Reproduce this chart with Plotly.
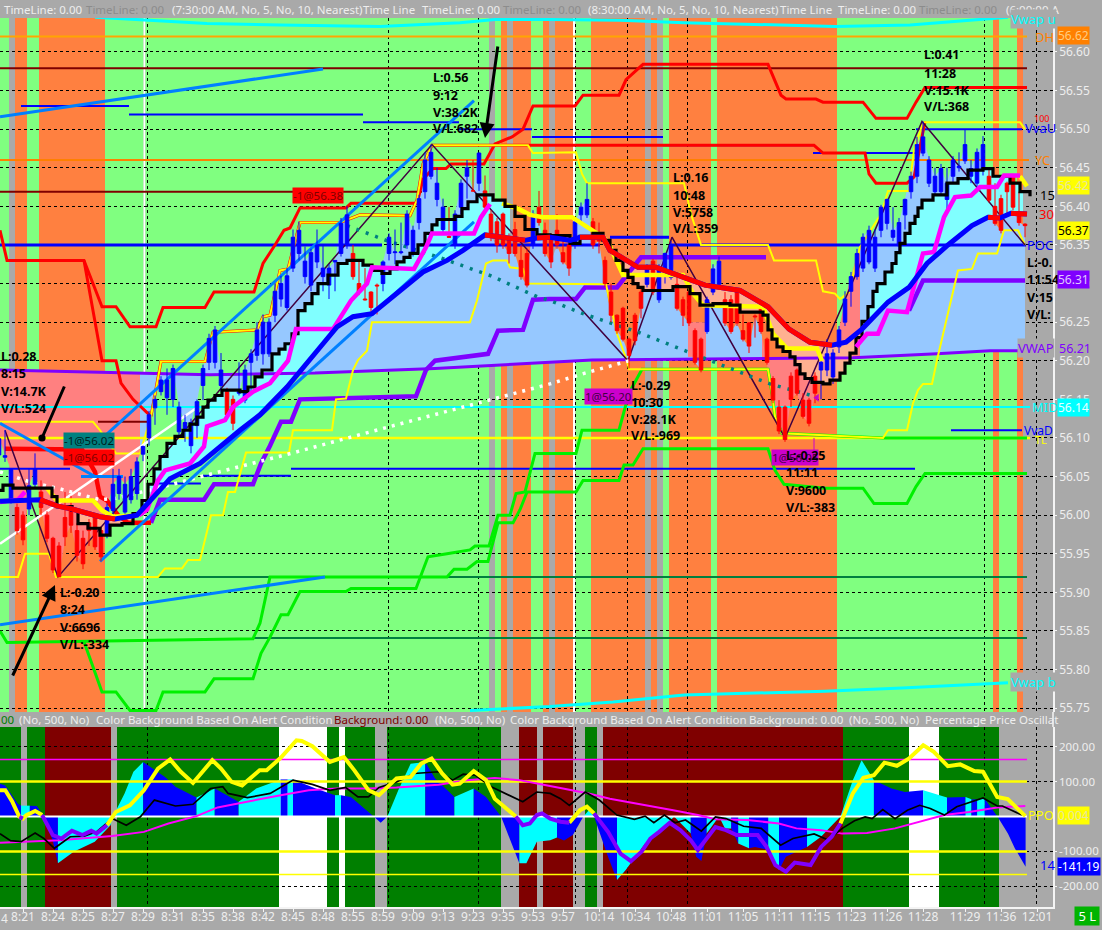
import numpy as np
import plotly.graph_objects as go

# ---------- candles (bar number, price) ----------
bar_no = list(range(-4, 168))
open_ = [56.078,56.075,56.018,56.010,56.0,56.008,56.04,56.03,56.0,55.97,55.96,55.997,56.009,55.98,55.97,55.99,55.998,55.98,55.974,56.006,
56.028,56.004,56.02,56.028,56.079,56.10,56.139,56.16,56.152,56.15,56.108,56.11,56.09,56.116,56.168,56.198,56.198,56.168,56.16,56.15,
56.158,56.149,56.198,56.207,56.209,56.209,56.259,56.28,56.269,56.32,56.339,56.309,56.298,56.328,56.309,56.298,56.328,56.339,56.35,56.339,
56.30,56.28,56.289,56.298,56.30,56.339,56.34,56.34,56.35,56.339,56.379,56.419,56.439,56.409,56.37,56.361,56.35,56.399,56.439,56.42,
56.43,56.42,56.39,56.38,56.39,56.36,56.37,56.33,56.339,56.35,56.399,56.369,56.36,56.369,56.34,56.35,56.35,56.389,56.389,56.38,
56.36,56.33,56.289,56.259,56.268,56.228,56.259,56.289,56.299,56.329,56.279,56.319,56.308,56.299,56.279,56.289,56.239,56.228,56.238,56.289,
56.299,56.279,56.279,56.289,56.239,56.249,56.258,56.27,56.228,56.177,56.14,56.14,56.18,56.188,56.149,56.149,56.18,56.188,56.188,56.179,
56.218,56.25,56.29,56.309,56.32,56.328,56.32,56.369,56.378,56.36,56.349,56.389,56.419,56.439,56.469,56.43,56.419,56.419,56.409,56.439,
56.45,56.459,56.439,56.43,56.448,56.439,56.40,56.41,56.43,56.439,56.389,56.377]
high_ = [56.104,56.11,56.06,56.015,56.005,56.06,56.08,56.045,56.005,55.972,55.965,56.03,56.025,55.99,55.98,55.995,56.0,55.985,56.015,56.06,
56.06,56.05,56.06,56.075,56.09,56.135,56.155,56.18,56.19,56.195,56.147,56.13,56.125,56.15,56.195,56.235,56.245,56.21,56.165,56.155,
56.198,56.195,56.215,56.25,56.26,56.255,56.30,56.31,56.32,56.37,56.38,56.348,56.345,56.37,56.35,56.325,56.33,56.385,56.40,56.35,
56.328,56.32,56.29,56.30,56.33,56.365,56.37,56.379,56.395,56.375,56.415,56.47,56.48,56.45,56.41,56.399,56.395,56.435,56.46,56.46,
56.47,56.44,56.395,56.385,56.392,56.365,56.38,56.35,56.345,56.395,56.42,56.379,56.365,56.39,56.36,56.352,56.385,56.405,56.43,56.385,
56.379,56.335,56.30,56.26,56.27,56.23,56.262,56.295,56.325,56.332,56.325,56.34,56.355,56.308,56.283,56.292,56.242,56.23,56.283,56.325,
56.335,56.289,56.285,56.292,56.26,56.25,56.26,56.278,56.23,56.18,56.149,56.142,56.185,56.19,56.158,56.152,56.185,56.2,56.228,56.215,
56.245,56.29,56.315,56.345,56.365,56.375,56.37,56.402,56.41,56.399,56.385,56.41,56.445,56.49,56.51,56.465,56.45,56.455,56.45,56.465,
56.47,56.50,56.46,56.475,56.491,56.449,56.43,56.415,56.432,56.442,56.419,56.378]
low_ = [56.07,56.069,56.015,55.975,55.961,56.0,56.035,56.0,55.965,55.925,55.92,55.96,55.977,55.94,55.93,55.96,55.955,55.94,55.97,56.0,
56.02,56.0,56.015,56.02,56.07,56.09,56.117,56.155,56.13,56.14,56.10,56.095,56.08,56.10,56.149,56.188,56.19,56.16,56.125,56.11,
56.155,56.145,56.16,56.2,56.195,56.205,56.25,56.27,56.265,56.315,56.33,56.3,56.29,56.32,56.29,56.28,56.29,56.335,56.345,56.305,
56.285,56.278,56.26,56.26,56.29,56.33,56.325,56.338,56.345,56.335,56.37,56.41,56.435,56.40,56.365,56.36,56.345,56.39,56.41,56.42,
56.42,56.395,56.355,56.34,56.345,56.326,56.335,56.305,56.295,56.345,56.375,56.335,56.32,56.345,56.325,56.31,56.345,56.378,56.385,56.345,
56.339,56.295,56.25,56.235,56.225,56.19,56.22,56.255,56.295,56.285,56.275,56.30,56.305,56.265,56.245,56.245,56.195,56.185,56.235,56.285,
56.295,56.245,56.235,56.245,56.225,56.21,56.23,56.235,56.195,56.145,56.105,56.095,56.14,56.155,56.125,56.115,56.145,56.15,56.18,56.17,
56.21,56.245,56.27,56.305,56.315,56.325,56.315,56.36,56.37,56.355,56.34,56.37,56.41,56.43,56.465,56.425,56.415,56.415,56.39,56.43,
56.445,56.455,56.43,56.425,56.44,56.405,56.375,56.365,56.39,56.395,56.375,56.36]
close_ = [56.099,56.077,56.059,55.98,55.968,56.038,56.06,56.01,55.97,55.929,55.92,55.972,55.987,55.948,55.937,55.98,55.959,55.946,56.01,56.04,
56.05,56.04,56.05,56.069,56.089,56.13,56.15,56.175,56.175,56.19,56.14,56.12,56.12,56.147,56.19,56.229,56.24,56.188,56.13,56.119,
56.16,56.188,56.209,56.24,56.25,56.25,56.29,56.30,56.31,56.36,56.369,56.329,56.34,56.35,56.32,56.32,56.33,56.378,56.389,56.309,
56.289,56.279,56.269,56.297,56.328,56.36,56.341,56.341,56.39,56.369,56.41,56.46,56.47,56.43,56.399,56.36,56.39,56.43,56.45,56.42,
56.469,56.399,56.36,56.35,56.35,56.339,56.339,56.309,56.298,56.39,56.379,56.339,56.328,56.35,56.328,56.32,56.38,56.399,56.409,56.35,
56.355,56.30,56.259,56.239,56.228,56.207,56.226,56.268,56.319,56.289,56.319,56.339,56.35,56.268,56.259,56.249,56.198,56.188,56.279,56.319,
56.329,56.249,56.238,56.249,56.228,56.219,56.257,56.238,56.198,56.149,56.109,56.098,56.15,56.158,56.128,56.119,56.158,56.198,56.209,56.21,
56.24,56.28,56.309,56.339,56.36,56.369,56.36,56.399,56.409,56.369,56.379,56.409,56.439,56.48,56.49,56.46,56.439,56.449,56.43,56.46,
56.452,56.48,56.449,56.47,56.48,56.408,56.378,56.369,56.419,56.399,56.379,56.375]

# ---------- top pane levels ----------
level_names = ["DH","YC","R1","R2","R3","G1","G2","TL","MID","P1","P2","P3","P4"]
level_price = [56.62,56.46,56.579,56.419,56.121,55.92,55.841,56.10,56.14,56.35,56.35,56.36,56.35]
level_start = [0,0,0,0,98,158,253,0,0,0,420,610,669]
level_end   = [1027,1029,1027,422,147,1027,1027,1030,1030,382,600,669,1026]
level_color = ["#ffa500","#ff8000","#7f0000","#7f0000","#7f0000","#007f3f","#007f3f","#ffff00","#00ffff","#0000ff","#0000ff","#0000ff","#0000ff"]
level_width = [2,2,2,2,2,2,2,2.5,2,3,3,3,3]
va_start = [21,129,363,459,532,663,813,916,291,203,158,915,951,0,81]
va_end   = [129,363,459,532,663,813,916,1022,915,291,201,951,1022,70,123]
va_price = [56.53,56.519,56.509,56.50,56.49,56.479,56.469,56.50,56.06,56.051,56.041,56.10,56.11,56.06,56.05]

# ---------- top pane curves (x = slot on the time scale, y = price) ----------
vwapu_x=[95,150,207,280,380,460,495,550,620,684,796,835,910,1008]
vwapu_y=[56.645,56.641,56.637,56.635,56.633,56.638,56.642,56.642,56.641,56.638,56.635,56.633,56.635,56.645]
vwapb_x=[470,550,613,684,825,902,1008]
vwapb_y=[55.747,55.752,55.758,55.767,55.772,55.776,55.783]
vwap_x=[0,80,210,315,435,550,592,768,853,937,990,1027]
vwap_y=[56.188,56.186,56.182,56.184,56.19,56.198,56.201,56.203,56.204,56.209,56.213,56.213]
purple_x=[151,160,204,214,253,261,270,281,291,300,416,426,435,488,498,523,533,550,576,585,617,631,641,766,None,909,923,1025]
purple_y=[55.99,56.02,56.02,56.04,56.04,56.067,56.09,56.121,56.121,56.15,56.154,56.188,56.2,56.209,56.239,56.24,56.279,56.28,56.28,56.295,56.295,56.317,56.334,56.334,None,56.265,56.304,56.304]
red1_x=[0,7,84,102,116,130,156,163,205,214,254,263,275,284,290,300,346,351,417,423,433,446,451,484,495,512,523,533,575,583,619,626,643,768,781,786,816,823,863,876,907,916,925,1027]
red1_y=[56.369,56.33,56.33,56.27,56.27,56.244,56.244,56.269,56.269,56.289,56.289,56.326,56.35,56.369,56.372,56.398,56.398,56.404,56.404,56.435,56.449,56.449,56.455,56.455,56.481,56.49,56.50,56.53,56.53,56.544,56.544,56.564,56.584,56.584,56.544,56.539,56.539,56.535,56.535,56.514,56.514,56.535,56.554,56.554]
red2_x=[84,102,116,121,133,151,161,205,213,257,263,270,280,288,300,340,360,410,417,423,432,814,823,865,869,876,907,914,920,925]
red2_y=[56.33,56.2,56.2,56.171,56.15,56.128,56.199,56.199,56.237,56.24,56.257,56.259,56.317,56.319,56.379,56.379,56.389,56.388,56.408,56.455,56.479,56.479,56.469,56.469,56.442,56.43,56.43,56.438,56.477,56.51]
red3_x=[5,82,95,100,107,118,128,151]
red3_y=[56.086,56.085,56.056,56.024,56.019,56.0,55.99,55.99]
yup_x=[0,93,100,116,140,151,161,205,213,257,263,270,280,288,300,340,360,410,417,423,432,528,533,576,582,587,684,691,701,768,774,816,823,835,840,849,860,881,888,909,914,923,1020,1025]
yup_y=[56.121,56.121,56.11,56.08,56.08,56.128,56.199,56.199,56.237,56.24,56.257,56.259,56.317,56.319,56.379,56.379,56.389,56.388,56.408,56.455,56.479,56.479,56.469,56.47,56.442,56.43,56.43,56.39,56.35,56.35,56.33,56.33,56.29,56.287,56.28,56.289,56.347,56.39,56.42,56.42,56.473,56.509,56.509,56.5]
ylo_x=[0,18,25,49,56,158,165,182,188,200,211,223,228,235,246,289,293,332,336,346,353,358,367,372,470,477,486,493,507,510,523,528,606,617,627,629,768,772,775,782,883,888,907,913,918,923,932,937,958,972,978,997,1004,1018,1025]
ylo_y=[55.92,55.92,55.95,55.95,55.92,55.92,55.931,55.931,55.942,55.942,56.0,56.0,56.03,56.03,56.081,56.081,56.11,56.11,56.15,56.151,56.188,56.201,56.213,56.25,56.25,56.278,56.326,56.33,56.33,56.321,56.319,56.3,56.299,56.235,56.2,56.189,56.189,56.158,56.128,56.106,56.1,56.11,56.11,56.145,56.162,56.17,56.17,56.201,56.317,56.319,56.339,56.339,56.369,56.369,56.35]
greena_x=[84,102,116,130,156,163,205,214,253,261,270,281,288,300,346,351,416,428,447,470,475,489,498,510,516,525,535,576,582,619,629,642,768,772,775,782,883,1027]
greena_y=[55.836,55.771,55.771,55.747,55.747,55.771,55.771,55.788,55.788,55.821,55.842,55.871,55.871,55.901,55.901,55.905,55.905,55.946,55.95,55.955,55.96,55.96,56.0,56.0,56.028,56.03,56.08,56.08,56.11,56.11,56.158,56.189,56.189,56.158,56.128,56.106,56.1,56.1]
greenb_x=[0,7,253,260,270,447,454,467,477,488,498,513,520,527,576,583,619,624,633,643,768,775,784,825,863,874,907,916,925,1027]
greenb_y=[55.85,55.835,55.84,55.86,55.92,55.92,55.93,55.93,55.94,55.94,55.99,55.99,56.007,56.03,56.03,56.045,56.045,56.065,56.065,56.086,56.086,56.058,56.04,56.035,56.035,56.015,56.015,56.037,56.054,56.054]
ema15_x=[0,3,13,45,52,57,72,78,88,100,
110,122,133,142,148,154,160,167,175,183,
190,197,203,208,215,222,240,248,255,262,
272,279,285,292,298,305,312,318,328,338,
347,355,363,372,382,390,397,404,410,418,
425,432,437,455,462,468,477,485,493,505,
515,525,537,550,570,580,593,603,610,616,
623,628,633,638,643,660,673,690,700,713,
730,740,763,768,772,777,783,790,795,800,
805,812,823,830,840,845,850,856,862,868,
873,877,885,892,896,900,905,910,915,918,
922,933,947,958,968,983,993,1010,1020,1030]
ema15_y=[56.032,56.039,56.035,56.035,56.024,56.011,56.006,55.989,55.983,55.974,
55.987,55.989,56.002,56.019,56.04,56.06,56.076,56.093,56.102,56.11,
56.118,56.127,56.14,56.149,56.155,56.162,56.16,56.166,56.179,56.188,
56.209,56.215,56.222,56.235,56.265,56.274,56.287,56.30,56.311,56.326,
56.33,56.33,56.324,56.317,56.313,56.319,56.328,56.334,56.339,56.35,
56.365,56.376,56.383,56.387,56.397,56.406,56.415,56.415,56.408,56.4,
56.387,56.37,56.363,56.362,56.352,56.361,56.365,56.356,56.343,56.33,
56.317,56.308,56.3,56.295,56.291,56.291,56.296,56.287,56.272,56.274,
56.272,56.263,56.259,56.24,56.228,56.218,56.212,56.205,56.195,56.183,
56.177,56.172,56.17,56.175,56.184,56.197,56.21,56.23,56.251,56.27,
56.29,56.30,56.315,56.326,56.34,56.352,56.365,56.378,56.387,56.398,
56.408,56.415,56.43,56.436,56.447,56.449,56.439,56.43,56.419,56.413]
ema30_x=[0,40,57,72,100,115,137,143,163,170,187,200,240,260,287,303,323,337,353,372,390,400,423,447,463,485,525,537,550,570,580,603,610,638,656,705,740,768,789,810,832,846,862,888,909,927,948,972,988,1000,1011,1027]
ema30_y=[56.018,56.02,56.012,56.008,55.998,55.995,56.0,56.009,56.037,56.047,56.058,56.067,56.11,56.13,56.166,56.192,56.222,56.244,56.257,56.261,56.28,56.291,56.315,56.33,56.343,56.363,56.356,56.359,56.36,56.356,56.36,56.36,56.343,56.321,56.321,56.298,56.291,56.27,56.241,56.224,56.22,56.224,56.241,56.276,56.295,56.326,56.35,56.375,56.386,56.385,56.391,56.39]
ema30_red_from=[40,485,537,580,988,1011]
ema30_red_to=[115,525,550,832,1000,1027]
mag_x=[0,18,25,None,139,147,158,165,190,204,207,225,233,253,270,281,288,296,333,351,367,372,414,426,432,474,481,490,None,856,867,878,888,907,916,923,934,944,955,971,980,997,1004,1020]
mag_y=[56.017,56.02,56.03,None,56.0,56.007,56.045,56.058,56.067,56.089,56.115,56.123,56.14,56.16,56.171,56.188,56.2,56.241,56.241,56.278,56.3,56.321,56.319,56.347,56.365,56.365,56.386,56.403,None,56.218,56.235,56.235,56.265,56.263,56.304,56.339,56.341,56.386,56.412,56.414,56.425,56.425,56.44,56.44]
ythick_x=[47,57,93,102,113,137,None,502,518,530,543,572,603,608,623,663,683,693,703,763,773,787,817,822,None,1020,1027]
ythick_y=[56.035,56.019,56.019,56.006,55.998,56.0,None,56.404,56.397,56.389,56.386,56.386,56.36,56.354,56.311,56.311,56.311,56.287,56.272,56.27,56.235,56.216,56.216,56.2,None,56.439,56.426]
white_x=[0,198]
white_y=[55.963,56.14]
wdot_x=[0,30,60,100,116,158,207,291,382,491,550,585,629]
wdot_y=[56.056,56.043,56.034,56.02,56.022,56.035,56.052,56.08,56.112,56.15,56.17,56.184,56.2]
tdot_x=[347,386,439,491,537,550,585,638,693,770,817]
tdot_y=[56.375,56.356,56.334,56.31,56.283,56.278,56.26,56.237,56.209,56.17,56.153]
zig_x=[5,58,432,628,672,785,922,1025]
zig_y=[56.11,55.92,56.48,56.20,56.36,56.10,56.51,56.35]
trend_x0=[0,0,100,100,0,81]
trend_y0=[56.516,55.858,55.94,56.097,56.119,56.05]
trend_x1=[323,325,474,474,95,123]
trend_y1=[56.578,55.92,56.38,56.537,56.05,56.05]

# ---------- backgrounds ----------
top_edges=[0,9,15,27,39,105,143.5,145.5,489,495,501,507,513,531,543,549,555,573,575.5,591,645,651,657,663,669,711,717,837,993,999,1017,1023,1053]
top_state=["g","a","o","g","o","g","w","g","a","g","o","a","o","g","o","a","o","w","g","o","a","o","a","g","o","g","o","g","o","g","o","a"]
low_edges=[0,21,27,45,111,117,279,327,339,345,375,387,501,519,537,543,573,585,597,603,843,909,939,999,1053]
low_state=["G","a","G","R","a","G","w","G","w","G","a","G","a","R","a","R","a","G","a","R","G","w","G","a"]

# ---------- lower pane (bar number, oscillator value) ----------
hist_i=[-3.83,-2.95,-0.9,-0.32,1.14,2.31,3.48,4.94,5.82,8.45,11.96,14.59,15,16.93,18.4,20.03,23.66,25.41,28.92,31.96,35.94,38.86,42.95,44.12,45,48.8,52,53,54.65,58.45,59.62,60.73,62.55,64.6,67.05,68.68,71.9,75.12,77.16,79.68,82.72,83.9,85.64,87.87,89,90.18,91.64,93.4,94.3,95.17,97.5,99,100.45,103.67,106,107.78,108.5,111.3,112.2,113.06,113.95,116,117,118.05,119.2,121,122,124.2,126,127.15,130.67,133,136.24,138.3,139.77,141.82,144.76,147,150.04,154,157.08,158.08,159.02,160.3,162.4,164.15,165.3,167.1]
hist_v=[94,89,37,31,31,30,0,-68,-134,-101,-72,-25,0,66,128,156,113,85,54,80,42,80,106,106,106,80,61,61,56,0,-18,0,75,151,156,109,56,80,56,0,-134,-134,-72,-68,-60,-69,-53,0,18,0,-115,-182,-153,-77,-49,-15,0,-49,-115,-127,-49,0,-34,-34,-77,-91,-87,-96,-153,-115,-87,-58,0,104,161,104,80,70,75,54,56,49,49,51,0,-49,-91,-144]
hist_c=list("bbbcbbbbccccccc"+"bbbcbccbcbbcbbbbcccbbcbbbccccbbbccbbccccccbbbcccbcbbcbbcccccbbbcbcbcbbbbb")
ppo_i=[-3.83,-2.95,-1.78,-0.61,-0.03,0.56,2.02,3.19,4.94,6.4,8.16,9.91,11.37,12.25,14,15.47,17.81,20.15,22.49,24.53,26.29,28.33,31.55,33,34.77,36.52,39.44,40.61,42.95,45.58,46.46,48.22,51.14,53.48,55.23,57.57,59.33,62.25,64.59,66.35,68.1,69.85,71.61,72.78,75.12,77.16,78.63,80.97,82.13,83.3,84.47,85.64,86.52,87.87,89.59,91.06,92.82,93.99,95.17,97.51,99.57,101.33,103.09,104.56,106.02,107.78,109.54,111.3,112.48,113.65,115.41,117.17,118.93,122.45,123.92,125.39,127.15,128.62,131.26,133.02,134.78,136.24,138.3,140.06,141.82,143.58,145.64,147.69,150.04,151.8,154.14,156.2,158.55,160.01,162.36,164.12,167.05]
ppo_v=[75,75,42,-1,-6,4,16,4,-53,-63,-41,-53,-41,-49,-25,13,32,75,137,163,128,96,161,137,99,89,132,132,168,218,216,201,156,170,132,75,61,109,113,151,166,123,91,94,130,104,51,18,0,-25,-20,4,9,-6,-15,-18,18,28,9,-44,-106,-128,-101,-63,-44,-18,-39,-68,-96,-68,-30,-39,-53,-53,-87,-139,-158,-132,-139,-87,-58,-20,66,111,118,154,145,166,204,185,144,149,130,128,56,50,1]
ppo_purple_from=[-0.61,3.19,82.13,95.17]
ppo_purple_to=[-0.03,14,91.06,136.24]
sig_i=[-3.83,-2.08,-0.32,2.02,3.48,5.23,7.87,10.2,12.25,14.88,17.22,19.56,21.9,25.41,28.33,31.26,33.3,34.18,37.4,41.2,45,48.22,51.14,53.77,55.82,57.57,59.33,62.25,65.18,69.27,71.61,73.37,75.41,78.04,83.3,85.64,87.87,89.59,91.06,93.7,96.05,98.98,101.91,103.68,105.14,106.9,108.66,110.42,113.06,115.41,117.17,120.11,123.04,126.27,128.32,131.85,134.2,136.54,138.59,140.35,141.52,143.29,145.34,147.4,149.45,151.21,153.56,155.61,160.01,162.36,163.24,166.48]
sig_v=[-49,-69,-72,-47,-63,-91,-58,-56,-44,-6,-25,-1,47,30,35,80,85,66,54,66,104,92,75,83,56,56,83,99,123,128,104,121,118,85,42,70,66,51,32,70,47,4,-8,1,-18,4,-18,-10,-42,-1,-6,-28,-34,-82,-63,-50,-67,-34,-12,-1,-6,20,-6,18,32,23,4,28,53,30,30,4]
slow_i=[-3.83,2.02,6.11,14.88,20.15,24.24,28.92,32.43,37.11,42.95,47.63,52.31,57.57,62.25,69.27,73.95,78.63,82.72,87.83,91.35,94.28,97.81,102.5,108.37,112.48,115.41,120.69,125.98,128.91,133.02,136.54,140.65,145.34,150.04,153.56,157.67,162.36,167.05]
slow_v=[-75,-72,-68,-56,-44,-20,1,26,42,61,75,80,80,83,91,104,110,104,87,75,66,51,37,18,4,-8,-10,-20,-34,-39,-49,-47,-34,-12,4,13,26,30]

# ---------- axis labels ----------
tick_bar=[0,5,10,15,20,25,30,35,40,45,50,55,60,65,70,75,80,85,90,96,102,108,114,120,126,132,138,144,150,157,163,169]
tick_text=["8:21","8:24","8:25","8:27","8:29","8:31","8:35","8:38","8:42","8:45","8:48","8:55","8:59","9:09","9:13","9:23","9:35","9:53","9:57","10:14","10:34","10:48","11:01","11:05","11:11","11:15","11:23","11:26","11:28","11:29","11:36","12:01"]
grid_slots=[147,388,478,575,627,687,984,1036]
osc_ticks=[200,100,-100,-200]
osc_text=["200.00","100.00","-100.00","-200.00"]

W,H=1102,930
PLOT_R=1053
def py(y): return 1-y/H
def slot(b): return 23+6*np.asarray(b,dtype=float)

PMIN,PMAX=55.745,56.644
OMIN,OMAX=-258.9,256
FILL={"g":"#80ff80","o":"#ff8040","a":"#a9a9a9","w":"#ffffff","G":"#007f00","R":"#7f0000"}

fig=go.Figure()
shapes=[]
for a,b,s in zip(top_edges[:-1],top_edges[1:],top_state):
    shapes.append(dict(type="rect",layer="below",xref="x",yref="y",x0=a,x1=b,y0=PMIN,y1=PMAX,fillcolor=FILL[s],line_width=0))
for a,b,s in zip(low_edges[:-1],low_edges[1:],low_state):
    shapes.append(dict(type="rect",layer="below",xref="x2",yref="y2",x0=a,x1=b,y0=OMIN,y1=OMAX,fillcolor=FILL[s],line_width=0))
shapes.append(dict(type="line",xref="paper",yref="paper",x0=1,x1=1,y0=py(712),y1=py(727),line=dict(color="#f4f4f4",width=1.5)))

def line(x,y,color,width,ya="y",xa="x",dash=None,shape="linear"):
    fig.add_trace(go.Scatter(x=x,y=y,mode="lines",xaxis=xa,yaxis=ya,hoverinfo="skip",showlegend=False,
                             line=dict(color=color,width=width,dash=dash,shape=shape)))

def band(xa,ya,xb,yb,lo,hi,color,yaxis="y"):
    g=np.arange(lo,hi+1,1.0)
    a=np.interp(g,xa,ya); b=np.interp(g,xb,yb)
    fig.add_trace(go.Scatter(x=np.r_[g,g[::-1]],y=np.r_[a,b[::-1]],mode="lines",fill="toself",fillcolor=color,
                             line=dict(width=0),xaxis="x",yaxis=yaxis,hoverinfo="skip",showlegend=False))

bx=slot(bar_no)
cl=np.array(close_)
ex=np.array(ema15_x,float); ey=np.array(ema15_y)
sx=np.c_[ex[:-1],ex[1:]-0.01].ravel(); sy=np.c_[ey[:-1],ey[:-1]].ravel()
band(bx,cl,vwap_x,vwap_y,bx[0],140,"#ff8080")
band(bx,cl,vwap_x,vwap_y,140,762,"#96c8ff")
band(bx,cl,vwap_x,vwap_y,762,860,"#ff8080")
band(bx,cl,vwap_x,vwap_y,860,1025,"#96c8ff")
band([688,706],[56.25,56.25],[688,706],[56.205,56.205],688,706,"#ff8080")
band(sx,sy,ema30_x,ema30_y,132,510,"#80ffff")
band(sx,sy,ema30_x,ema30_y,862,1023,"#80ffff")
band(sx,sy,ema30_x,ema30_y,57,132,"#ffb090")
band(sx,sy,ema30_x,ema30_y,603,862,"#ffb090")

for n,p,a,b,c,w in zip(level_names,level_price,level_start,level_end,level_color,level_width):
    line([a,b],[p,p],c,w)
for a,b,p in zip(va_start,va_end,va_price):
    line([a,b],[p,p],"#0000ff",2)
line(vwapu_x,vwapu_y,"#00ffff",3)
line(vwapb_x,vwapb_y,"#00ffff",3)
line(vwap_x,vwap_y,"#7f00ff",3)
line(purple_x,purple_y,"#7f00ff",4.5)
line(red1_x,red1_y,"#ff0000",3)
line(red2_x,red2_y,"#ff0000",3)
line(red3_x,red3_y,"#ff0000",4.5)
line(greena_x,greena_y,"#00f000",3)
line(greenb_x,greenb_y,"#00f000",3)
line(yup_x,yup_y,"#ffff00",2)
line(ylo_x,ylo_y,"#ffff00",2)
line(zig_x,zig_y,"#400040",1.5)
line(white_x,white_y,"#ffffff",2.5)
line(wdot_x,wdot_y,"#ffffff",3.5,dash="3px,6px")
line(tdot_x,tdot_y,"#008080",3.5,dash="3px,7px")
for x0,y0,x1,y1 in zip(trend_x0,trend_y0,trend_x1,trend_y1):
    line([x0,x1],[y0,y1],"#0080ff",3)
line([814,814],[56.10,56.07],"#cc00cc",1)

fig.add_trace(go.Candlestick(x=bx,open=open_,high=high_,low=low_,close=close_,xaxis="x",yaxis="y3",showlegend=False,
    hoverinfo="skip",whiskerwidth=0,
    increasing=dict(line=dict(color="#0000ff",width=1),fillcolor="#0000ff"),
    decreasing=dict(line=dict(color="#ff0000",width=1),fillcolor="#ff0000")))

line(ythick_x,ythick_y,"#ffff00",4.5,ya="y4")
line(ema15_x,ema15_y,"#000000",3.2,ya="y4",shape="hv")
line(mag_x,mag_y,"#ff00ff",4.5,ya="y4")
e30x=np.array(ema30_x,float); e30y=np.array(ema30_y)
line(e30x,e30y,"#0000ff",5,ya="y4")
for a,b in zip(ema30_red_from,ema30_red_to):
    m=(e30x>=a)&(e30x<=b)
    line(e30x[m],e30y[m],"#ff0000",5,ya="y4")
fig.add_trace(go.Scatter(x=[817],y=[56.152],mode="markers",xaxis="x",yaxis="y4",hoverinfo="skip",showlegend=False,
                         marker=dict(symbol="triangle-left",size=7,color="#cc00cc")))

# lower pane
hx=slot(hist_i); hv=np.array(hist_v,float)
start=0
for k in range(1,len(hist_i)):
    if k==len(hist_i)-1 or hist_c[k]!=hist_c[start]:
        col="#0000ff" if hist_c[start]=="b" else "#00ffff"
        fig.add_trace(go.Scatter(x=hx[start:k+1],y=hv[start:k+1],mode="lines",fill="tozeroy",fillcolor=col,
                                 line=dict(width=0),xaxis="x2",yaxis="y2",hoverinfo="skip",showlegend=False))
        start=k
for v,c,w in [(0,"#ffffff",2),(100,"#ffff00",2.5),(-100,"#ffff00",2.5),(-166,"#ffff00",1.5),(163,"#ff00ff",1.5)]:
    line([0,1027],[v,v],c,w,ya="y2",xa="x2")
line(slot(slow_i),slow_v,"#ff00ff",2,ya="y2",xa="x2")
line(slot(sig_i),sig_v,"#000000",1.7,ya="y2",xa="x2")
pi=np.array(ppo_i); pv=np.array(ppo_v,float)
yel=np.array(pv)
for a,b in zip(ppo_purple_from,ppo_purple_to):
    yel[(pi>a)&(pi<b)]=np.nan
pi_y=list(slot(pi)); yel_y=[None if np.isnan(v) else float(v) for v in yel]
line(pi_y,yel_y,"#ffff00",4,ya="y2",xa="x2")
for a,b in zip(ppo_purple_from,ppo_purple_to):
    m=(pi>=a)&(pi<=b)
    line(slot(pi[m]),pv[m],"#7f00ff",4,ya="y2",xa="x2")

# ---------- text ----------
anns=[]
FONT="Noto Sans"
def txt(x,y,s,color="#e8e8e8",size=11.5,bold=False,bg=None,anchor="left"):
    d=dict(xref="paper",yref="paper",x=x/PLOT_R,y=py(y),text=("<b>%s</b>"%s) if bold else s,showarrow=False,xanchor=anchor,yanchor="middle",
           font=dict(family=FONT,size=size,color=color),borderpad=0,align="left")
    if bg: d["bgcolor"]=bg
    anns.append(d)

for x,s,c in [(3,"TimeLine: 0.00","#eeeeee"),(85,"TimeLine: 0.00","#8c8c8c"),(171,"(7:30:00 AM, No, 5, No, 10, Nearest)","#eeeeee"),
              (362,"Time Line","#eeeeee"),(421,"TimeLine: 0.00","#eeeeee"),(502,"TimeLine: 0.00","#8c8c8c"),
              (587,"(8:30:00 AM, No, 5, No, 10, Nearest)","#eeeeee"),(779,"Time Line","#eeeeee"),(837,"TimeLine: 0.00","#eeeeee"),
              (918,"TimeLine: 0.00","#8c8c8c"),(1005,"(6:00:00 A","#eeeeee")]:
    txt(x,10,s,c)
for x,s,c in [(0,"00","#007f00"),(18,"(No, 500, No)","#eeeeee"),(95,"Color Background Based On Alert Condition","#eeeeee"),
              (333,"Background: 0.00","#7f0000"),(434,"(No, 500, No)","#eeeeee"),(509,"Color Background Based On Alert Condition","#eeeeee"),
              (748,"Background: 0.00","#eeeeee"),(848,"(No, 500, No)","#eeeeee"),(924,"Percentage Price Oscillat","#eeeeee")]:
    txt(x,719,s,c)

blocks=[(0,[356,374,391,408],["L:0.28","8:15","V:14.7K","V/L:524"]),
        (59,[592,609,627,644],["L:-0.20","8:24","V:6696","V/L:-334"]),
        (432,[78,95,112,129],["L:0.56","9:12","V:38.2K","V/L:682"]),
        (672,[177,195,212,229],["L:0.16","10:48","V:5758","V/L:359"]),
        (923,[55,73,90,107],["L:0.41","11:28","V:15.1K","V/L:368"]),
        (630,[385,402,419,436],["L:-0.29","10:30","V:28.1K","V/L:-969"]),
        (1026,[262,280,297,314],["L:-0.","11:54","V:15","V/L:"])]
for x,ys,ss in blocks:
    for y,s in zip(ys,ss):
        txt(x,y,s,"#000000",12.5,True)

for x,y,s,c,bg in [(292,195,"-1@56.38","#7f0000","#ff0000"),(63,441,"-1@56.02","#002020","#008080"),(63,458,"-1@56.02","#7f0000","#ff0000"),
                   (584,396,"1@56.20","#400040","#cc00cc"),(771,457,"1@56.05","#400040","#cc00cc")]:
    txt(x,y,s,c,11.5,False,bg)
for y,s in zip([455,473,490,507],["L:-0.25","11:11","V:9600","V/L:-383"]):
    txt(785,y,s,"#000000",12.5,True)

for x,y,s,c,bg,sz in [(1034,37,"DH","#ff8000",None,13),(1034,160,"YC","#ff8000",None,13),(1039,195,"15","#000000",None,13),(1038,214,"30","#ff0000",None,13),
                   (1026,245,"POC","#0000ff",None,13),(1017,348,"VWAP","#7f00ff","#a9a9a9",13),(1031,407,"MID","#00ffff",None,13),
                   (1033,118,"100","#ff0000",None,9),(1024,128,"VvaU","#0000ff",None,13),(1034,439,"TL","#ffff00",None,11),(1023,430,"VvaD","#0000ff",None,12),
                   (1010,682,"Vwap b","#00ffff","#a9a9a9",13),(1010,19,"Vwap u","#00ffff","#a9a9a9",13),(1027,815,"PPO","#ffff00",None,13),
                   (1039,865,"14","#0000ff",None,13),(1058,348,"56.21","#7f00ff",None,12.5)]:
    txt(x,y,s,c,sz,False,bg)
for y,s,c,bg in [(36,"56.62","#ffcc80","#ff8000"),(186,"56.42","#e6e6a0","#ffff00"),(230,"56.37","#000000","#ffff00"),
                 (279,"56.31","#e0c8ff","#7f00ff"),(407,"56.14","#e8ffff","#00ffff"),(815,"0.004","#e6e6a0","#ffff00"),(866,"-141.19","#ffffff","#0000ff")]:
    txt(1057,y,s,c,12,False,bg)
txt(1074,916,"&nbsp;5 L&nbsp;","#ffffff",13,False,"#00b400")
txt(0,918,"4","#eeeeee",12)

for hx_,hy_,ax,ay,head,sz in [(55,585,-43,92,2,1),(485,138,13,-93,2,1),(42,438,23,-53,6,0.6)]:
    anns.append(dict(xref="paper",yref="paper",x=hx_/PLOT_R,y=py(hy_),ax=ax,ay=ay,showarrow=True,arrowhead=head,arrowsize=sz,arrowwidth=3,arrowcolor="#000000",text=""))

grid=dict(showgrid=True,gridcolor="#000000",griddash="3px,3px",gridwidth=1)
minor=dict(tickvals=grid_slots,showgrid=True,gridcolor="#000000",griddash="3px,3px",gridwidth=1,ticks="",ticklen=0)
tickf=dict(family=FONT,size=12,color="#eeeeee")
fig.update_layout(
    width=W,height=H,autosize=False,margin=dict(l=0,r=W-PLOT_R,t=0,b=0,pad=0),boxgap=0.15,
    paper_bgcolor="#a9a9a9",plot_bgcolor="#a9a9a9",showlegend=False,hovermode=False,shapes=shapes,annotations=anns,
    xaxis=dict(domain=[0,1],range=[0,PLOT_R],anchor="y",showgrid=False,showticklabels=False,ticks="",zeroline=False,
               rangeslider=dict(visible=False),minor=minor,automargin=False,showline=False),
    xaxis2=dict(domain=[0,1],range=[0,PLOT_R],anchor="y2",matches="x",showgrid=False,zeroline=False,automargin=False,
                tickmode="array",tickvals=[float(v) for v in slot(tick_bar)],ticktext=tick_text,tickfont=dict(family=FONT,size=12,color="#eeeeee"),ticks="outside",ticklen=3,tickcolor="#f4f4f4",
                ticklabelstandoff=-5,showline=True,linecolor="#f4f4f4",linewidth=1.5,minor=minor,tickangle=0),
    yaxis=dict(domain=[py(712),py(18)],range=[PMIN,PMAX],side="right",anchor="x",tick0=55.75,dtick=0.05,tickformat=".2f",tickfont=tickf,
               ticks="outside",ticklen=2,tickcolor="#f4f4f4",showline=True,linecolor="#f4f4f4",linewidth=1.5,zeroline=False,automargin=False,**grid),
    yaxis2=dict(domain=[py(907),py(727)],range=[OMIN,OMAX],side="right",anchor="x2",tickmode="array",tickvals=osc_ticks,ticktext=osc_text,
                tickfont=dict(family=FONT,size=11.5,color="#eeeeee"),
                ticks="outside",ticklen=2,tickcolor="#f4f4f4",showline=True,linecolor="#f4f4f4",linewidth=1.5,zeroline=False,automargin=False,**grid),
    yaxis3=dict(overlaying="y",range=[PMIN,PMAX],side="right",anchor="x",visible=False),
    yaxis4=dict(overlaying="y",range=[PMIN,PMAX],side="right",anchor="x",visible=False),
)
fig.write_html("out.html",config=dict(displayModeBar=False),post_script="document.body.style.margin='0';document.body.style.overflow='hidden';")
